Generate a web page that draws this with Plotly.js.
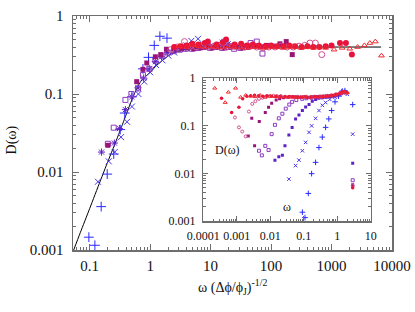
<!DOCTYPE html>
<html>
<head>
<meta charset="utf-8">
<script src="https://cdn.plot.ly/plotly-3.0.1.min.js"></script>
<style>html,body{margin:0;padding:0;background:#fff}#chart{width:415px;height:312px}</style>
</head>
<body>
<div id="chart"></div>
<script>
// ---------- master curve ----------
var curveX = [0.053, 0.07, 0.1, 0.15, 0.2, 0.3, 0.4, 0.53, 0.7, 1.0, 1.3, 1.7, 2.13, 3, 4, 6, 8.5, 15, 30, 100, 1000, 6600];
var curveD = [0.00095, 0.00167, 0.0034, 0.0077, 0.0136, 0.030, 0.054, 0.095, 0.145, 0.19, 0.235, 0.28, 0.32, 0.355, 0.372, 0.385, 0.392, 0.397, 0.40, 0.40, 0.40, 0.40];

// ---------- main panel series (scaled frequency) ----------
var mainX1 = [0.097, 0.122, 0.155, 0.195, 0.25, 0.32, 0.38, 0.5, 0.76, 0.94, 1.17, 1.45, 1.9];
var mainD1 = [0.00146, 0.00115, 0.0036, 0.0094, 0.017, 0.035, 0.057, 0.092, 0.21, 0.295, 0.42, 0.55, 0.52];

var mainX2 = [0.137, 0.207, 0.26, 0.33, 0.415, 0.5, 0.64, 0.8, 1.0, 1.25, 1.6, 2.0, 2.5, 2.9, 3.4, 4.0, 4.8, 6.2];
var mainD2 = [0.0075, 0.0137, 0.018, 0.028, 0.044, 0.069, 0.1, 0.144, 0.19, 0.235, 0.27, 0.31, 0.34, 0.38, 0.40, 0.42, 0.48, 0.51];

var mainX3 = [0.157, 0.256, 0.31, 0.39, 0.5, 0.63, 0.78, 0.97, 1.22, 1.55, 1.95, 2.5, 3.1, 3.9, 4.9, 6.2, 7.8, 9.8, 12.3, 15.5, 19.5];
var mainD3 = [0.018, 0.0235, 0.036, 0.063, 0.092, 0.12, 0.16, 0.21, 0.26, 0.30, 0.34, 0.36, 0.38, 0.39, 0.40, 0.40, 0.41, 0.41, 0.42, 0.46, 0.44];

var mainX4 = [0.2, 0.25, 0.39, 0.49, 0.63, 0.76, 0.97, 1.22, 1.55, 1.95, 2.5, 3.1, 3.9, 4.9, 6.2, 7.8, 9.8, 12.3, 15.5, 19.5, 24.5, 31, 39, 46, 58, 72];
var mainD4 = [0.023, 0.037, 0.084, 0.10, 0.118, 0.175, 0.21, 0.27, 0.31, 0.34, 0.36, 0.37, 0.38, 0.38, 0.39, 0.40, 0.39, 0.40, 0.39, 0.40, 0.38, 0.39, 0.40, 0.45, 0.47, 0.33];

var mainX5 = [0.2, 0.6, 0.76, 0.88, 1.22, 1.5, 1.86, 2.5, 3.3, 4.2, 5.3, 6.7, 8.4, 10.6, 13.3, 16.8, 21, 26.5, 33, 42, 53, 67, 84, 106, 140, 178, 224];
var mainD5 = [0.022, 0.144, 0.207, 0.25, 0.30, 0.32, 0.375, 0.38, 0.38, 0.39, 0.38, 0.39, 0.40, 0.39, 0.40, 0.39, 0.40, 0.40, 0.39, 0.40, 0.41, 0.40, 0.42, 0.41, 0.44, 0.47, 0.32];

var mainX6 = [2.2, 2.8, 3.7, 4.6, 5.8, 7.3, 9.2, 11.6, 14.6, 18.4, 23, 29, 37, 46, 58, 73, 92, 116, 146, 184, 232, 290, 360, 440, 540, 690];
var mainD6 = [0.37, 0.40, 0.47, 0.41, 0.40, 0.42, 0.40, 0.41, 0.40, 0.40, 0.41, 0.40, 0.40, 0.41, 0.40, 0.39, 0.40, 0.40, 0.41, 0.40, 0.40, 0.41, 0.42, 0.45, 0.45, 0.32];

var mainX7 = [2.5, 3.2, 4.0, 5.0, 6.3, 8.0, 9.0, 12.6, 16, 18, 25, 32, 40, 50, 63, 80, 100, 126, 160, 200, 250, 320, 400, 500, 630, 800, 1000, 1380, 1730, 2170];
var mainD7 = [0.40, 0.41, 0.42, 0.44, 0.43, 0.45, 0.47, 0.43, 0.46, 0.50, 0.43, 0.44, 0.42, 0.43, 0.42, 0.41, 0.42, 0.41, 0.41, 0.42, 0.41, 0.40, 0.41, 0.40, 0.40, 0.41, 0.42, 0.45, 0.45, 0.32];

var mainX8 = [3, 4, 5, 6.3, 8, 10, 12.6, 16, 20, 25, 32, 40, 50, 63, 80, 100, 126, 160, 200, 250, 320, 400, 500, 630, 800, 1100, 1500, 2000, 2700, 3500, 4300, 5300, 6700];
var mainD8 = [0.41, 0.40, 0.42, 0.41, 0.40, 0.41, 0.40, 0.40, 0.41, 0.40, 0.40, 0.39, 0.40, 0.40, 0.39, 0.40, 0.40, 0.39, 0.40, 0.40, 0.39, 0.40, 0.39, 0.40, 0.39, 0.37, 0.39, 0.38, 0.40, 0.42, 0.45, 0.47, 0.31];

// ---------- inset series (raw frequency) ----------
var insW1 = [0.091, 0.109, 0.137, 0.172, 0.226, 0.285, 0.358, 0.45, 0.56, 0.68, 0.86, 1.1, 1.42, 1.7, 2.9];
var insD1 = [0.00153, 0.00118, 0.0038, 0.0099, 0.0171, 0.035, 0.058, 0.093, 0.14, 0.21, 0.32, 0.42, 0.54, 0.55, 0.28];

var insW2 = [0.036, 0.057, 0.072, 0.091, 0.114, 0.144, 0.172, 0.226, 0.285, 0.36, 0.45, 0.6, 0.86, 1.2, 1.5, 2.0, 2.9];
var insD2 = [0.0076, 0.0146, 0.019, 0.030, 0.045, 0.073, 0.10, 0.144, 0.21, 0.27, 0.31, 0.36, 0.40, 0.45, 0.54, 0.46, 0.067];

var insW3 = [0.0138, 0.018, 0.023, 0.0275, 0.036, 0.045, 0.057, 0.072, 0.091, 0.114, 0.144, 0.18, 0.226, 0.28, 0.36, 0.45, 0.57, 0.72, 0.9, 1.14, 1.43, 1.8, 2.9];
var insD3 = [0.019, 0.0225, 0.024, 0.038, 0.064, 0.092, 0.14, 0.17, 0.21, 0.25, 0.28, 0.33, 0.36, 0.38, 0.39, 0.40, 0.41, 0.42, 0.43, 0.46, 0.52, 0.50, 0.0163];

var insW4 = [0.0046, 0.0056, 0.0071, 0.0089, 0.011, 0.0138, 0.018, 0.023, 0.029, 0.037, 0.045, 0.06, 0.09, 0.12, 0.17, 0.24, 0.34, 0.48, 0.68, 0.95, 1.3, 1.7, 2.9];
var insD4 = [0.030, 0.024, 0.038, 0.031, 0.067, 0.105, 0.144, 0.18, 0.23, 0.28, 0.32, 0.35, 0.37, 0.38, 0.39, 0.40, 0.40, 0.41, 0.42, 0.44, 0.48, 0.50, 0.0072];

var insW5 = [0.0022, 0.0028, 0.0034, 0.0047, 0.0071, 0.0089, 0.011, 0.015, 0.019, 0.025, 0.033, 0.044, 0.058, 0.077, 0.1, 0.135, 0.18, 0.24, 0.32, 0.42, 0.56, 0.75, 1.0, 1.3, 1.7, 2.9];
var insD5 = [0.061, 0.144, 0.038, 0.123, 0.19, 0.245, 0.30, 0.35, 0.37, 0.39, 0.40, 0.41, 0.41, 0.40, 0.41, 0.40, 0.41, 0.41, 0.42, 0.42, 0.43, 0.44, 0.46, 0.50, 0.51, 0.0058];

var insW6 = [0.00088, 0.00116, 0.00145, 0.00185, 0.0023, 0.0029, 0.0036, 0.0046, 0.0058, 0.0075, 0.0096, 0.0125, 0.016, 0.021, 0.028, 0.037, 0.05, 0.067, 0.09, 0.12, 0.16, 0.21, 0.28, 0.38, 0.5, 0.67, 0.9, 1.2, 1.55, 2.0, 2.9];
var insD6 = [0.15, 0.093, 0.076, 0.06, 0.2, 0.29, 0.33, 0.37, 0.39, 0.41, 0.42, 0.43, 0.42, 0.42, 0.41, 0.41, 0.40, 0.41, 0.40, 0.41, 0.40, 0.41, 0.41, 0.42, 0.43, 0.44, 0.46, 0.49, 0.52, 0.49, 0.0055];

var insW7 = [0.00035, 0.0007, 0.00116, 0.0015, 0.002, 0.0026, 0.0034, 0.0045, 0.006, 0.008, 0.011, 0.015, 0.02, 0.027, 0.036, 0.048, 0.065, 0.087, 0.12, 0.16, 0.21, 0.28, 0.38, 0.5, 0.68, 0.9, 1.2, 1.5, 1.9, 2.9];
var insD7 = [0.38, 0.19, 0.245, 0.37, 0.42, 0.43, 0.44, 0.43, 0.42, 0.43, 0.42, 0.42, 0.42, 0.41, 0.41, 0.41, 0.40, 0.40, 0.40, 0.40, 0.41, 0.41, 0.41, 0.42, 0.43, 0.45, 0.48, 0.52, 0.50, 0.0050];

var insW8 = [0.00022, 0.00045, 0.00056, 0.00092, 0.0013, 0.00185, 0.0026, 0.0035, 0.005, 0.007, 0.01, 0.014, 0.02, 0.028, 0.04, 0.056, 0.08, 0.11, 0.16, 0.22, 0.32, 0.45, 0.63, 0.9, 1.25, 1.6, 2.0];
var insD8 = [0.62, 0.31, 0.51, 0.62, 0.40, 0.44, 0.42, 0.41, 0.44, 0.40, 0.42, 0.41, 0.40, 0.41, 0.40, 0.40, 0.40, 0.41, 0.40, 0.41, 0.41, 0.42, 0.43, 0.45, 0.48, 0.52, 0.50];

// ---------- styles ----------
var cols = ['#2a2aff', '#4634e6', '#5e22c4', '#8d3cc0', '#9a1478', '#d2508f', '#e8123c', '#f0282e'];
var symMain = ['cross-thin-open', 'x-thin-open', 'asterisk-open', 'square-open', 'square', 'circle-open', 'circle', 'triangle-up-open'];
var symIns = ['cross-thin-open', 'x-thin-open', 'square', 'square-open', 'square', 'circle-open', 'circle', 'triangle-up-open'];
var sizeMain = [7, 6, 6, 5, 5, 6, 6, 5];
var sizeIns = [4, 3.5, 3, 3, 3, 3, 3.5, 3.5];

var mainXs = [mainX1, mainX2, mainX3, mainX4, mainX5, mainX6, mainX7, mainX8];
var mainDs = [mainD1, mainD2, mainD3, mainD4, mainD5, mainD6, mainD7, mainD8];
var insWs = [insW1, insW2, insW3, insW4, insW5, insW6, insW7, insW8];
var insDs = [insD1, insD2, insD3, insD4, insD5, insD6, insD7, insD8];

function mk(sym, col, size) {
  var open = /open|thin/.test(sym);
  return {symbol: sym, size: size, color: col, line: {color: col, width: open ? 1 : 0}};
}

var traces = [{
  x: curveX, y: curveD, mode: 'lines', type: 'scatter', xaxis: 'x', yaxis: 'y',
  line: {color: '#000', width: 1, shape: 'spline', smoothing: 0.6}, hoverinfo: 'skip'
}];
for (var i = 0; i < 8; i++) {
  traces.push({x: mainXs[i], y: mainDs[i], mode: 'markers', type: 'scatter', xaxis: 'x', yaxis: 'y',
    marker: mk(symMain[i], cols[i], sizeMain[i])});
}
for (var j = 0; j < 8; j++) {
  traces.push({x: insWs[j], y: insDs[j], mode: 'markers', type: 'scatter', xaxis: 'x2', yaxis: 'y2',
    marker: mk(symIns[j], cols[j], sizeIns[j])});
}

var serif = 'Liberation Serif, Times New Roman, serif';
var axCol = '#6e6e6e';
function ax(extra) {
  var a = {type: 'log', showline: true, linecolor: axCol, linewidth: 1.5, mirror: 'allticks',
    ticks: 'inside', tickcolor: axCol, tickwidth: 1, dtick: 1, tickformat: '~g',
    showgrid: false, zeroline: false};
  for (var k in extra) a[k] = extra[k];
  return a;
}
function minor(len) {
  return {ticks: 'inside', dtick: 'D1', ticklen: len, tickcolor: axCol, tickwidth: 1, showgrid: false};
}

var layout = {
  width: 415, height: 312,
  margin: {l: 73, r: 23, t: 16, b: 62},
  paper_bgcolor: '#fff', plot_bgcolor: '#fff',
  showlegend: false,
  font: {family: serif, color: '#111'},
  xaxis: ax({range: [Math.log10(0.053), 4], domain: [0, 1], anchor: 'y', ticklen: 6,
    tickfont: {family: serif, size: 15, color: '#111'}, ticklabelstandoff: 1, minor: minor(3)}),
  yaxis: ax({range: [-3, 0], domain: [0, 1], anchor: 'x', ticklen: 6,
    tickfont: {family: serif, size: 15, color: '#111'}, ticklabelstandoff: 5, minor: minor(3)}),
  xaxis2: ax({range: [-4, 1], domain: [0.4085, 0.9332], anchor: 'y2', ticklen: 5,
    tickfont: {family: serif, size: 12, color: '#111'}, ticklabelstandoff: 3, minor: minor(2.5)}),
  yaxis2: ax({range: [-3, 0], domain: [0.1239, 0.7338], anchor: 'x2', ticklen: 5,
    tickfont: {family: serif, size: 12, color: '#111'}, ticklabelstandoff: 4, minor: minor(2.5)}),
  annotations: [
    {text: 'D(ω)', xref: 'paper', yref: 'paper', x: -0.19, y: 0.47, xanchor: 'center', yanchor: 'middle',
      textangle: -90, showarrow: false, font: {family: serif, size: 14, color: '#111'}},
    {text: 'ω (Δϕ/ϕ<sub>J</sub>)<sup>-1/2</sup>', xref: 'paper', yref: 'paper', x: 0.5, y: -0.16,
      xanchor: 'center', yanchor: 'middle', showarrow: false, font: {family: serif, size: 14, color: '#111'}},
    {text: 'D(ω)', xref: 'paper', yref: 'paper', x: 0.483, y: 0.427, xanchor: 'center', yanchor: 'middle',
      showarrow: false, font: {family: serif, size: 12, color: '#111'}},
    {text: 'ω', xref: 'paper', yref: 'paper', x: 0.67, y: 0.185, xanchor: 'center', yanchor: 'middle',
      showarrow: false, font: {family: serif, size: 12, color: '#111'}}
  ]
};

Plotly.newPlot('chart', traces, layout, {staticPlot: true, displayModeBar: false});
</script>
</body>
</html>
